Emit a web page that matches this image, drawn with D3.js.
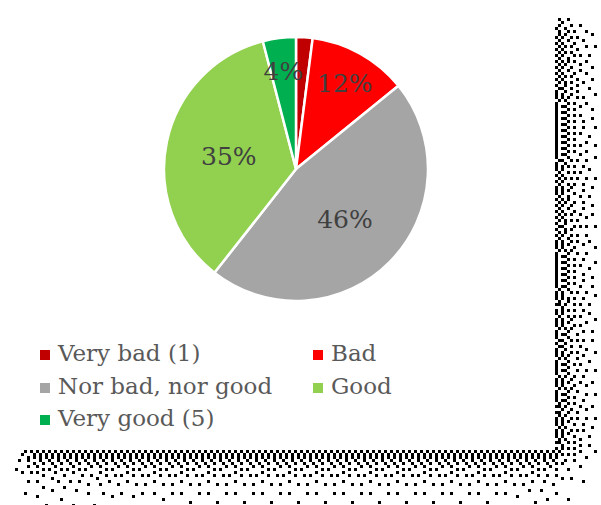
<!DOCTYPE html>
<html>
<head>
<meta charset="utf-8">
<script src="https://cdn.jsdelivr.net/npm/d3@7/dist/d3.min.js"></script>
<style>
  html, body { margin: 0; padding: 0; background: #fff; }
  svg { display: block; }
</style>
</head>
<body>
<svg id="chart" width="601" height="505"></svg>
<script>
// Survey answers, share of respondents (%)
const categories = ["Very bad (1)", "Bad", "Nor bad, nor good", "Good", "Very good (5)"];
const values = [2, 12, 46, 35, 4];
const colors = ["#C00000", "#FF0000", "#A5A5A5", "#92D050", "#00B050"];
// Data labels shown on slices (the smallest slice carries none)
const showLabel = [false, true, true, true, true];

const svg = d3.select("#chart");
const W = 601, H = 505;

// ---- Dithered drop shadow around the chart frame (serpentine error diffusion) ----
const frameW = 555, frameH = 450, cell = 3;
const cols = Math.ceil(W / cell), rows = Math.ceil(H / cell);
const ramp = (v, a, b) => Math.max(0, Math.min(1, (v - a) / (b - a)));
const inFrame = (gx, gy) => gx * cell + cell / 2 < frameW && gy * cell + cell / 2 < frameH;
const field = [];
for (let gy = 0; gy < rows; gy++) {
  const row = [];
  for (let gx = 0; gx < cols; gx++) {
    const x = gx * cell + cell / 2, y = gy * cell + cell / 2;
    if (inFrame(gx, gy)) { row.push(0); continue; }
    const dX = Math.max(0, x - frameW), dY = Math.max(0, y - frameH);
    const fade = ramp(y, 8, 36) * ramp(x, 8, 36);
    row.push(0.62 * Math.exp(-(dX + dY) / 20) * fade);
  }
  field.push(row);
}
const shadowCells = [];
for (let gy = 0; gy < rows; gy++) {
  const dir = gy % 2 === 0 ? 1 : -1;
  for (let k = 0; k < cols; k++) {
    const gx = dir === 1 ? k : cols - 1 - k;
    if (inFrame(gx, gy)) continue;
    const old = field[gy][gx];
    const on = old > 0.5 ? 1 : 0;
    if (on) shadowCells.push([gx * cell, gy * cell]);
    const err = old - on;
    const nx = gx + dir, px = gx - dir;
    if (nx >= 0 && nx < cols) field[gy][nx] += err * 7 / 16;
    if (gy + 1 < rows) {
      if (px >= 0 && px < cols) field[gy + 1][px] += err * 3 / 16;
      field[gy + 1][gx] += err * 5 / 16;
      if (nx >= 0 && nx < cols) field[gy + 1][nx] += err * 1 / 16;
    }
  }
}
svg.append("g").attr("class", "shadow")
  .selectAll("rect").data(shadowCells).join("rect")
  .attr("x", d => d[0]).attr("y", d => d[1])
  .attr("width", cell).attr("height", cell)
  .attr("fill", "#000");

// ---- Pie ----
const center = [296, 169], radius = 132;
const pie = d3.pie().sort(null).value(d => d.value);
const arcs = pie(categories.map((c, i) => ({ name: c, value: values[i], color: colors[i], label: showLabel[i] })));
const arc = d3.arc().innerRadius(0).outerRadius(radius);
// Narrow slices get their label pushed further out
const labelPos = d => {
  const share = (d.endAngle - d.startAngle) / (2 * Math.PI);
  const r = share < 0.15 ? radius * 0.76 : radius * 0.52;
  return d3.arc().innerRadius(r).outerRadius(r).centroid(d);
};

const g = svg.append("g").attr("transform", `translate(${center[0]},${center[1]})`);
g.selectAll("path").data(arcs).join("path")
  .attr("d", arc)
  .attr("fill", d => d.data.color)
  .attr("stroke", "#fff")
  .attr("stroke-width", 2.5)
  .attr("stroke-linejoin", "round");

g.selectAll("text").data(arcs.filter(d => d.data.label)).join("text")
  .attr("transform", d => `translate(${labelPos(d)})`)
  .attr("text-anchor", "middle")
  .attr("dy", "0.42em")
  .attr("font-family", "DejaVu Serif, serif")
  .attr("font-size", 25)
  .attr("fill", "#404040")
  .text(d => d.data.value + "%");

// ---- Legend ----
const legendPos = [[40, 361], [313, 361], [40, 394], [313, 394], [40, 426]];
const legend = svg.append("g").selectAll("g").data(categories).join("g")
  .attr("transform", (d, i) => `translate(${legendPos[i][0]},${legendPos[i][1]})`);
legend.append("rect")
  .attr("x", 0).attr("y", -11).attr("width", 10).attr("height", 10)
  .attr("fill", (d, i) => colors[i]);
legend.append("text")
  .attr("x", 18).attr("y", 0)
  .attr("font-family", "DejaVu Serif, serif")
  .attr("font-size", 23)
  .attr("fill", "#595959")
  .text(d => d);
</script>
</body>
</html>
